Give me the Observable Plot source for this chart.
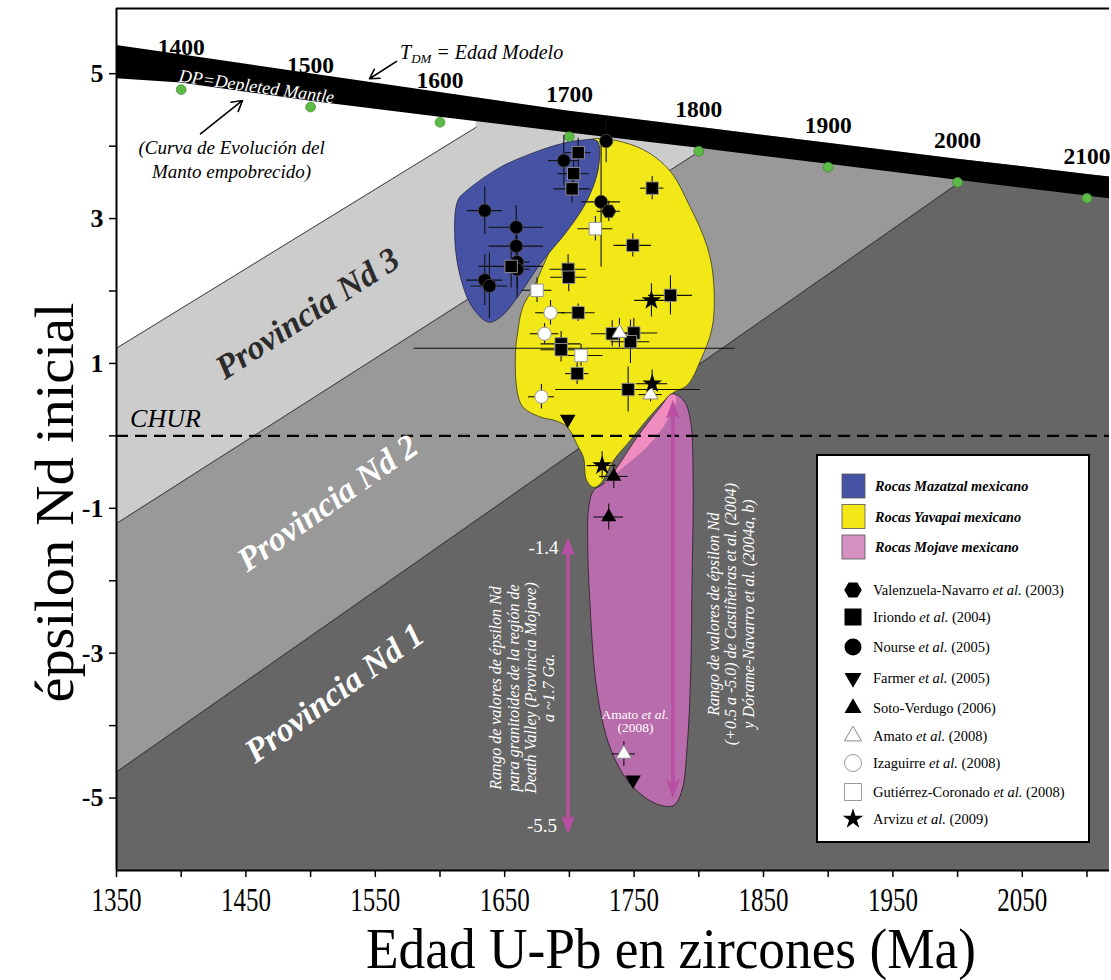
<!DOCTYPE html>
<html><head><meta charset="utf-8">
<script src="https://cdn.jsdelivr.net/npm/d3@7"></script>
<script src="https://cdn.jsdelivr.net/npm/@observablehq/plot@0.6"></script>
<style>
body{margin:0;background:#fff;}
#chart{position:relative;width:1111px;height:980px;}
</style>
</head><body><div id="chart"></div>
<script>
// ---------- DATA ----------
// Depleted mantle evolution (green dots at model ages)
const dmAges = [1400, 1500, 1600, 1700, 1800, 1900, 2000, 2100];
const dmEps  = [4.78, 4.54, 4.33, 4.13, 3.93, 3.71, 3.50, 3.28];
// black DM band edges
const bandAges = [1350, 1400, 1500, 1600, 1700, 1800, 1900, 2000, 2100, 2120];
const bandLow  = [4.93, 4.87, 4.62, 4.40, 4.18, 3.97, 3.75, 3.53, 3.31, 3.27];
const bandHigh = [5.39, 5.26, 5.00, 4.74, 4.48, 4.26, 4.04, 3.82, 3.61, 3.57];
// Nd province boundary lines [age, eps]
const lineNd3 = [[1350, 1.21], [1628, 4.26]];
const lineNd2 = [[1350, -1.21], [1800, 3.92]];
const lineNd1 = [[1350, -4.64], [2000, 3.48]];
const churEps = [0];

// province blobs [age, eps]
const mazatzalBlob = [[1708.6,4.08],[1721.5,4.07],[1722.5,3.71],[1713.7,3.25],[1698.3,2.83],[1677.7,2.38],[1659.7,1.91],[1646.8,1.64],[1637.5,1.57],[1624.9,1.78],[1615.8,2.19],[1611.4,2.74],[1613.8,3.25],[1621.0,3.39],[1646.8,3.71],[1672.5,3.91],[1693.1,4.03]];
const yavapaiBlob = [[1714.8,4.08],[1749.5,4.01],[1775.7,3.70],[1793.6,3.15],[1806.7,2.60],[1811.4,2.14],[1810.4,1.50],[1801.3,1.04],[1791.2,0.70],[1779.7,0.59],[1762.7,0.28],[1747.2,-0.06],[1734.1,-0.34],[1724.0,-0.66],[1718.6,-0.71],[1713.2,-0.61],[1710.9,-0.30],[1706.2,-0.13],[1698.5,0.12],[1689.3,0.21],[1677.7,0.26],[1664.5,0.39],[1659.9,0.59],[1658.3,1.14],[1659.9,1.41],[1663.8,1.77],[1672.3,2.05],[1681.5,2.42],[1693.1,2.90],[1702.4,3.39],[1707.0,3.80]];
const mojaveBlob = [[1779.4,0.58],[1788.4,0.49],[1793.6,0.21],[1795.6,-0.61],[1794.8,-1.99],[1793.6,-3.37],[1791.0,-4.29],[1787.1,-4.89],[1780.7,-5.10],[1770.4,-5.10],[1757.5,-4.98],[1744.6,-4.75],[1734.3,-4.43],[1726.6,-4.02],[1720.2,-3.37],[1716.3,-2.45],[1714.2,-1.53],[1715.0,-0.98],[1718.8,-0.75],[1726.6,-0.66],[1734.3,-0.50],[1752.3,-0.02],[1770.4,0.40]];
const overlapBlob = [[1779.4,0.58],[1770.4,0.40],[1752.3,-0.02],[1734.3,-0.50],[1726.6,-0.66],[1742.0,-0.43],[1760.1,-0.15],[1775.5,0.21],[1782.7,0.52]];

// samples: [age Ma, eps Nd, ± age, ± eps]
const valenzuela = [[1730.4, 3.10, 9, 0.14]];
const iriondo = [
  [1706.8,3.91,10,0.20],[1703.3,3.62,12,0.17],[1702.1,3.41,14,0.20],[1655.0,2.34,25,0.30],
  [1699.0,2.30,14,0.20],[1699.5,2.19,14,0.20],[1706.8,1.70,13,0.12],[1764.0,3.42,9,0.16],
  [1749.0,2.63,14.5,0.16],[1778.1,1.94,17,0.27],[1733.1,1.41,16,0.18],[1749.8,1.42,18.5,0.20],
  [1747.2,1.30,15,0.30],[1693.6,1.27,15.5,0.17],[1693.6,1.19,15.5,0.17],[1706.0,0.86,9,0.15],
  [1745.4,0.64,56,0.31]];
const nourse = [
  [1634.6,3.11,13.5,0.33],[1658.9,2.88,21,0.30],[1658.9,2.62,21,0.25],[1659.6,2.40,10,0.35],
  [1659.6,2.30,10,0.40],[1634.6,2.15,14,0.35],[1638.2,2.07,14,0.45],[1695.7,3.80,12,0.35],
  [1728.4,4.07,0,0.30],[1724.5,3.23,15,0.90]];
const farmer = [[1698.7,0.23,0,0],[1749.2,-4.75,0,0]];
const soto = [[1734.3,-0.56,11,0.17],[1730.4,-1.12,11.5,0.18]];
const amato = [[1738.7,1.42,8,0.20],[1762.7,0.57,9,0.10],[1742.1,-4.39,9,0.17]];
const izaguirre = [[1685.4,1.70,11.5,0.17],[1680.8,1.41,11,0.14],[1678.4,0.54,10,0.17]];
const gutierrez = [[1675.0,2.01,11.5,0.17],[1720.1,2.86,13.5,0.17],[1709.0,1.11,17,0.15]];
const arvizu = [[1763.4,1.87,13,0.23],[1764.0,0.72,12,0.19],[1725.3,-0.41,11.5,0.19]];
const longBars = [[1704,1.21,124,0]];

// eps Nd ranges (arrows): [age, top, bottom]
const rangeArrows = [[1699, -1.4, -5.5], [1780, 0.5, -5.0]];

// ticks
const xTicks = d3.range(1350, 2101, 50);
const yTicks = d3.range(-5, 6, 1);

// legend
const legendRegions = ["Rocas Mazatzal mexicano", "Rocas Yavapai mexicano", "Rocas Mojave mexicano"];
const legendRegionColors = ["#4652a3", "#f3e817", "#d590c2"];
const legendStudies = [["Valenzuela-Navarro"," et al."," (2003)"],["Iriondo"," et al."," (2004)"],["Nourse"," et al."," (2005)"],["Farmer"," et al."," (2005)"],["Soto-Verdugo",""," (2006)"],["Amato"," et al."," (2008)"],["Izaguirre"," et al."," (2008)"],["Gutiérrez-Coronado"," et al."," (2008)"],["Arvizu"," et al."," (2009)"]];

// ---------- SYMBOLS ----------
const downTri = {draw(ctx, size){ const y = -Math.sqrt(size/(Math.sqrt(3)*3)); ctx.moveTo(0,-y*2); ctx.lineTo(-Math.sqrt(3)*y, y); ctx.lineTo(Math.sqrt(3)*y, y); ctx.closePath(); }};
const hexSym = {draw(ctx, size){ const r = Math.sqrt(size/(3*Math.sqrt(3)/2)); for(let i=0;i<6;i++){const a=i*Math.PI/3; const px=r*Math.cos(a), py=r*Math.sin(a); i?ctx.lineTo(px,py):ctx.moveTo(px,py);} ctx.closePath(); }};
const headUp = {draw(ctx){ ctx.moveTo(0,0); ctx.lineTo(7,19); ctx.lineTo(0,15); ctx.lineTo(-7,19); ctx.closePath(); }};
const headDown = {draw(ctx){ ctx.moveTo(0,0); ctx.lineTo(7,-19); ctx.lineTo(0,-15); ctx.lineTo(-7,-19); ctx.closePath(); }};

const X = d => d[0], Y = d => d[1];
const TOP = 5.9;
const bandRows = bandAges.map((a,i) => ({age:a, lo:bandLow[i], hi:bandHigh[i]}));
const dmRows = dmAges.map((a,i) => ({age:a, eps:dmEps[i]}));
const allSamples = [valenzuela, iriondo, nourse, farmer, soto, amato, izaguirre, gutierrez, arvizu].flat().concat(longBars);
const serif = "Liberation Serif, Times New Roman, serif";
const arrowColor = "#b84fa2";

const plot = Plot.plot({
  width: 1111, height: 980,
  marginLeft: 116, marginRight: 2, marginTop: 8, marginBottom: 110,
  x: {domain: [1350, 2117.4]},
  y: {domain: [-6, TOP]},
  style: {fontFamily: serif, background: "white"},
  marks: [
    // background provinces
    Plot.areaY([[1350,-6],[2120,-6]], {x: X, y1: Y, y2: () => TOP, fill: "#666666", clip: true}),
    Plot.areaY(lineNd1, {x: X, y1: Y, y2: () => TOP, fill: "#999999"}),
    Plot.areaY(lineNd2, {x: X, y1: Y, y2: () => TOP, fill: "#cccccc"}),
    Plot.areaY(lineNd3, {x: X, y1: Y, y2: () => TOP, fill: "white"}),
    Plot.line(lineNd1, {x: X, y: Y, stroke: "#333", strokeWidth: 0.9}),
    Plot.line(lineNd2, {x: X, y: Y, stroke: "#333", strokeWidth: 0.9}),
    Plot.line(lineNd3, {x: X, y: Y, stroke: "#333", strokeWidth: 0.9}),
    Plot.areaY(bandRows, {x: "age", y1: "hi", y2: () => TOP, fill: "white", clip: true}),
    Plot.areaY(bandRows, {x: "age", y1: "lo", y2: "hi", fill: "black", clip: true}),
    // blobs
    Plot.line(yavapaiBlob, {x: X, y: Y, curve: "catmull-rom-closed", fill: "#f3e817", stroke: "#3a3a1a", strokeWidth: 0.8}),
    Plot.line(mazatzalBlob, {x: X, y: Y, curve: "catmull-rom-closed", fill: "#4652a3", stroke: "#22264a", strokeWidth: 0.8}),
    Plot.line(mojaveBlob, {x: X, y: Y, curve: "catmull-rom-closed", fill: "#b96cac", stroke: "none"}),
    Plot.line(overlapBlob, {x: X, y: Y, curve: "catmull-rom-closed", fill: "#f08cc0", stroke: "none"}),
    Plot.line(mojaveBlob, {x: X, y: Y, curve: "catmull-rom-closed", fill: "none", stroke: "#2a1a28", strokeWidth: 0.8}),
    // green DM dots
    Plot.dot(dmRows, {x: "age", y: "eps", r: 4.9, fill: "#5cba47", stroke: "#3d8a2e", strokeWidth: 0.7}),
    // CHUR
    Plot.ruleY(churEps, {stroke: "black", strokeWidth: 2.2, strokeDasharray: "12,7"}),
    // range arrows
    Plot.ruleX(rangeArrows, {x: X, y1: d => d[1], y2: d => d[2], stroke: arrowColor, strokeWidth: 3.5, insetTop: 12, insetBottom: 12}),
    Plot.dot(rangeArrows, {x: X, y: d => d[1], symbol: headUp, r: 5, fill: arrowColor, stroke: "none"}),
    Plot.dot(rangeArrows, {x: X, y: d => d[2], symbol: headDown, r: 5, fill: arrowColor, stroke: "none"}),
    // error bars
    Plot.ruleY(allSamples.filter(d => d[2] > 0), {y: Y, x1: d => d[0]-d[2], x2: d => d[0]+d[2], stroke: "#111", strokeWidth: 1.1}),
    Plot.ruleX(allSamples.filter(d => d[3] > 0), {x: X, y1: d => d[1]+d[3], y2: d => d[1]-d[3], stroke: "#111", strokeWidth: 1.1}),
    // samples
    Plot.dot(nourse, {x: X, y: Y, symbol: "circle", r: 6.6, fill: "black", stroke: "#555", strokeWidth: 0.7}),
    Plot.dot(valenzuela, {x: X, y: Y, symbol: hexSym, r: 6.6, fill: "black", stroke: "#555", strokeWidth: 0.7}),
    Plot.dot(iriondo, {x: X, y: Y, symbol: "square", r: 7, fill: "black", stroke: "#999", strokeWidth: 0.9}),
    Plot.dot(gutierrez, {x: X, y: Y, symbol: "square", r: 7, fill: "white", stroke: "#999", strokeWidth: 1}),
    Plot.dot(izaguirre, {x: X, y: Y, symbol: "circle", r: 6.6, fill: "white", stroke: "#999", strokeWidth: 1}),
    Plot.dot(soto, {x: X, y: Y, symbol: "triangle", r: 5.6, fill: "black", stroke: "none"}),
    Plot.dot(amato, {x: X, y: Y, symbol: "triangle", r: 5.6, fill: "white", stroke: "#888", strokeWidth: 1}),
    Plot.dot(farmer, {x: X, y: Y, symbol: downTri, r: 5.8, fill: "black", stroke: "none"}),
    Plot.dot(arvizu, {x: X, y: Y, symbol: "star", r: 6.2, fill: "black", stroke: "none"}),
    // frame lines
    Plot.ruleX([1350], {stroke: "black", strokeWidth: 2}),
    Plot.ruleY([-6], {stroke: "black", strokeWidth: 2}),
    Plot.ruleY([TOP], {stroke: "black", strokeWidth: 2}),
    // axes
    Plot.axisX({ticks: xTicks, tickFormat: d => (d % 100 === 50 ? String(d) : ""), tickSize: 7, tickPadding: 9, strokeWidth: 1.5, label: null}),
    Plot.axisY({ticks: yTicks, tickFormat: d => (Math.abs(d) % 2 === 1 ? String(d) : ""), tickSize: 7, tickPadding: 6, strokeWidth: 1.5, label: null}),
    Plot.text(["Edad U-Pb en zircones (Ma)"], {frameAnchor: "bottom", dx: -247, dy: 97, textAnchor: "start", fontSize: 56, fill: "black"}),
    Plot.text(["épsilon Nd inicial"], {frameAnchor: "left", dx: -61, dy: 263, rotate: -90, textAnchor: "start", fontSize: 54, fill: "black"}),
    // annotations
    Plot.text(dmRows, {x: "age", y: "eps", text: d => String(d.age), dy: -42, fontSize: 23.5, fontWeight: "bold", fill: "black"}),
    Plot.text(["CHUR"], {x: 1360.5, y: 0.24, textAnchor: "start", fontSize: 26, fontStyle: "italic", fill: "black"}),
    Plot.text(["Provincia Nd 3"], {x: 1497.6, y: 1.69, rotate: -33, fontSize: 34, fontWeight: "bold", fontStyle: "italic", fill: "#2b2b2b"}),
    Plot.text(["Provincia Nd 2"], {x: 1513.1, y: -0.93, rotate: -35, fontSize: 34, fontWeight: "bold", fontStyle: "italic", fill: "white"}),
    Plot.text(["Provincia Nd 1"], {x: 1518.5, y: -3.55, rotate: -36, fontSize: 34, fontWeight: "bold", fontStyle: "italic", fill: "white"}),
    Plot.text(["DP=Depleted Mantle"], {x: 1458.2, y: 4.82, rotate: 8, fontSize: 18, fontStyle: "italic", fill: "white"}),
    Plot.text(["(Curva de Evolución del"], {x: 1438.9, y: 3.97, fontSize: 19, fontStyle: "italic", fill: "black"}),
    Plot.text(["Manto empobrecido)"], {x: 1438.9, y: 3.65, fontSize: 19, fontStyle: "italic", fill: "black"}),
    Plot.arrow([[1566.4, 5.17, 1545.5, 4.93]], {x1: d => d[0], y1: d => d[1], x2: d => d[2], y2: d => d[3], stroke: "black", strokeWidth: 1.6, headLength: 11}),
    Plot.arrow([[1414.9, 4.17, 1447.4, 4.63]], {x1: d => d[0], y1: d => d[1], x2: d => d[2], y2: d => d[3], stroke: "black", strokeWidth: 1.6, headLength: 11}),
    Plot.text(["Rango de valores de épsilon Nd\npara granitoides de la región de\nDeath Valley (Provincia Mojave)\na ~1.7 Ga."], {x: 1663.4, y: -3.48, rotate: -90, fontSize: 16, lineHeight: 1.1, fontStyle: "italic", fill: "white"}),
    Plot.text(["Rango de valores de épsilon Nd\n(+0.5 a -5.0) de Castiñeiras et al. (2004)\ny Dórame-Navarro et al. (2004a, b)"], {x: 1824.5, y: -2.46, rotate: -90, fontSize: 16, lineHeight: 1.1, fontStyle: "italic", fill: "white"}),
    Plot.text(["-1.4"], {x: 1680, y: -1.55, fontSize: 19, fill: "white"}),
    Plot.text(["-5.5"], {x: 1678.8, y: -5.38, fontSize: 19, fill: "white"}),
    Plot.text(["(2008)"], {x: 1751.1, y: -4.03, fontSize: 13.5, fill: "white"})
  ]
});

document.getElementById("chart").appendChild(plot);
const root = d3.select(plot);
root.selectAll('g[aria-label="x-axis tick label"] text').each(function(){
  if (this.textContent) d3.select(this).attr("font-size", 34).attr("textLength", 50).attr("lengthAdjust", "spacingAndGlyphs");
});
root.selectAll('g[aria-label="y-axis tick label"] text').attr("font-size", 26).attr("font-weight", "bold");
root.selectAll("text").each(function(){
  const t = this.textContent;
  if (t === "Edad U-Pb en zircones (Ma)") d3.select(this).attr("textLength", 610).attr("lengthAdjust", "spacingAndGlyphs");
  if (t === "épsilon Nd inicial") d3.select(this).attr("textLength", 400).attr("lengthAdjust", "spacingAndGlyphs");
});

const sx = plot.scale("x"), sy = plot.scale("y");
// T_DM label
const tdm = root.append("text").attr("x", sx.apply(1569.5)).attr("y", sy.apply(5.2)).attr("text-anchor", "start")
  .attr("font-family", serif).attr("font-style", "italic").attr("font-size", 20).attr("fill", "black").style("white-space", "pre");
tdm.append("tspan").text("T");
tdm.append("tspan").attr("font-size", 13).attr("dy", 4).text("DM");
tdm.append("tspan").attr("dy", -4).text(" = Edad Modelo");
// Amato et al. label
const am = root.append("text").attr("x", sx.apply(1751.1)).attr("y", sy.apply(-3.86)).attr("dy", "0.32em").attr("text-anchor", "middle")
  .attr("font-family", serif).attr("font-size", 13.5).attr("fill", "white").style("white-space", "pre");
am.append("tspan").text("Amato ");
am.append("tspan").attr("font-style", "italic").text("et al.");

// legend
const lg = root.append("g").attr("font-family", serif).attr("text-anchor", "start");
lg.append("rect").attr("x", 817).attr("y", 455).attr("width", 272).attr("height", 387).attr("fill", "white").attr("stroke", "black").attr("stroke-width", 2);
legendRegions.forEach((name, i) => {
  const y = 474 + i * 30.5;
  lg.append("rect").attr("x", 842).attr("y", y).attr("width", 23).attr("height", 24).attr("fill", legendRegionColors[i]).attr("stroke", "#555").attr("stroke-width", 0.8);
  lg.append("text").attr("x", 875).attr("y", y + 12).attr("dy", "0.35em").attr("text-anchor", "start").attr("font-size", 14.3).attr("font-weight", "bold").attr("font-style", "italic").text(name);
});
const legSym = [
  {type: hexSym, size: 200, fill: "black", stroke: "none"},
  {type: d3.symbolSquare, size: 289, fill: "black", stroke: "none"},
  {type: d3.symbolCircle, size: 227, fill: "black", stroke: "none"},
  {type: downTri, size: 125, fill: "black", stroke: "none"},
  {type: d3.symbolTriangle, size: 125, fill: "black", stroke: "none"},
  {type: d3.symbolTriangle, size: 125, fill: "white", stroke: "#888"},
  {type: d3.symbolCircle, size: 227, fill: "white", stroke: "#999"},
  {type: d3.symbolSquare, size: 289, fill: "white", stroke: "#999"},
  {type: d3.symbolStar, size: 130, fill: "black", stroke: "none"}
];
const legY = [590, 617, 647, 678, 708, 736, 763, 792, 819];
legendStudies.forEach((parts, i) => {
  const s = legSym[i];
  lg.append("path").attr("transform", `translate(853,${legY[i]})`).attr("d", d3.symbol(s.type, s.size)()).attr("fill", s.fill).attr("stroke", s.stroke).attr("stroke-width", 1);
  const t = lg.append("text").attr("x", 873).attr("y", legY[i]).attr("dy", "0.35em").attr("text-anchor", "start").attr("font-size", 14.5).style("white-space", "pre");
  t.append("tspan").text(parts[0]);
  if (parts[1]) t.append("tspan").attr("font-style", "italic").text(parts[1]);
  t.append("tspan").text(parts[2]);
});
</script></body></html>
